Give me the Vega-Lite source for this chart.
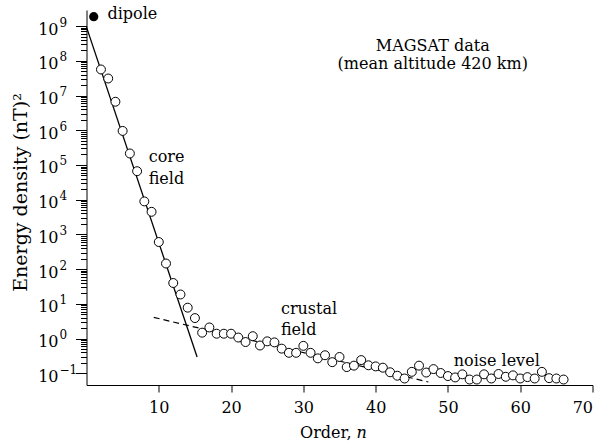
{
  "$schema": "https://vega.github.io/schema/vega-lite/v6.json",
  "width": 506,
  "height": 375,
  "autosize": {"type": "none"},
  "padding": {"left": 86.5, "top": 10, "right": 7.5, "bottom": 61},
  "background": "white",
  "config": {
    "font": "DejaVu Serif",
    "view": {"stroke": null},
    "axis": {
      "grid": false,
      "domainColor": "black",
      "domainWidth": 1,
      "tickColor": "black",
      "tickWidth": 1,
      "tickOpacity": 1,
      "labelColor": "black",
      "titleColor": "black",
      "labelFont": "DejaVu Serif",
      "titleFont": "DejaVu Serif",
      "titleFontWeight": "normal",
      "labelFontSize": 16
    }
  },
  "datasets": {
    "pts": [
      {"n": 2, "E": 5.62e7}, {"n": 3, "E": 3.09e7}, {"n": 4, "E": 6.61e6}, {"n": 5, "E": 9.55e5},
      {"n": 6, "E": 2.14e5}, {"n": 7, "E": 6.61e4}, {"n": 8, "E": 8910}, {"n": 9, "E": 4470},
      {"n": 10, "E": 603}, {"n": 11, "E": 145}, {"n": 12, "E": 39.8}, {"n": 13, "E": 18.6},
      {"n": 14, "E": 7.76}, {"n": 15, "E": 3.89}, {"n": 16, "E": 1.48}, {"n": 17, "E": 2.09},
      {"n": 18, "E": 1.38}, {"n": 19, "E": 1.38}, {"n": 20, "E": 1.38}, {"n": 21, "E": 1.07},
      {"n": 22, "E": 0.794}, {"n": 23, "E": 1.17}, {"n": 24, "E": 0.631}, {"n": 25, "E": 0.832},
      {"n": 26, "E": 0.776}, {"n": 27, "E": 0.513}, {"n": 28, "E": 0.389}, {"n": 29, "E": 0.389},
      {"n": 30, "E": 0.617}, {"n": 31, "E": 0.389}, {"n": 32, "E": 0.269}, {"n": 33, "E": 0.331},
      {"n": 34, "E": 0.209}, {"n": 35, "E": 0.295}, {"n": 36, "E": 0.151}, {"n": 37, "E": 0.166},
      {"n": 38, "E": 0.240}, {"n": 39, "E": 0.170}, {"n": 40, "E": 0.158}, {"n": 41, "E": 0.145},
      {"n": 42, "E": 0.107}, {"n": 43, "E": 0.0851}, {"n": 44, "E": 0.0708}, {"n": 45, "E": 0.110},
      {"n": 46, "E": 0.166}, {"n": 47, "E": 0.105}, {"n": 48, "E": 0.132}, {"n": 49, "E": 0.102},
      {"n": 50, "E": 0.0832}, {"n": 51, "E": 0.0759}, {"n": 52, "E": 0.0933}, {"n": 53, "E": 0.0661},
      {"n": 54, "E": 0.0661}, {"n": 55, "E": 0.0933}, {"n": 56, "E": 0.0708}, {"n": 57, "E": 0.0955},
      {"n": 58, "E": 0.0794}, {"n": 59, "E": 0.0871}, {"n": 60, "E": 0.0708}, {"n": 61, "E": 0.0776},
      {"n": 62, "E": 0.0708}, {"n": 63, "E": 0.110}, {"n": 64, "E": 0.0724}, {"n": 65, "E": 0.0708},
      {"n": 66, "E": 0.0661}
    ],
    "dip": [{"n": 1, "E": 1.86e9}],
    "core": [{"n": 0, "E": 9.33e8}, {"n": 15.3, "E": 0.295}],
    "crust": [{"n": 9.3, "E": 4.07}, {"n": 47.3, "E": 0.0562}],
    "leftText": [
      {"n": 2.9, "E": 1.65e9, "label": "dipole"},
      {"n": 8.6, "E": 1.18e5, "label": "core"},
      {"n": 8.6, "E": 2.8e4, "label": "field"},
      {"n": 26.9, "E": 5.25, "label": "crustal"},
      {"n": 26.9, "E": 1.3, "label": "field"},
      {"n": 50.8, "E": 0.159, "label": "noise level"}
    ],
    "centerText": [
      {"n": 47.9, "E": 1.94e8, "label": "MAGSAT data"},
      {"n": 47.9, "E": 5.65e7, "label": "(mean altitude 420 km)"}
    ]
  },
  "encoding": {
    "x": {
      "field": "n",
      "type": "quantitative",
      "scale": {"domain": [0, 70], "nice": false, "zero": false},
      "axis": {
        "values": [10, 20, 30, 40, 50, 60, 70],
        "tickSize": 7,
        "labelPadding": 7,
        "title": "Order, 𝑛",
        "titleFontSize": 16,
        "titleX": 246.5,
        "titleY": 52,
        "titleBaseline": "alphabetic",
        "titleAlign": "center"
      }
    }
  },
  "resolve": {"scale": {"y": "independent"}, "axis": {"y": "independent"}},
  "layer": [
    {
      "data": {"name": "crust"},
      "mark": {"type": "line", "color": "black", "strokeWidth": 1.2, "strokeDash": [6, 4]},
      "encoding": {
        "y": {"field": "E", "type": "quantitative", "scale": {"type": "log", "domain": [0.046, 2.9e9], "nice": false}, "axis": null}
      }
    },
    {
      "data": {"name": "core"},
      "mark": {"type": "line", "color": "black", "strokeWidth": 1.3},
      "encoding": {
        "y": {
          "field": "E",
          "type": "quantitative",
          "scale": {"type": "log", "domain": [0.046, 2.9e9], "nice": false},
          "axis": {
            "orient": "left",
            "title": null,
            "domain": false,
            "ticks": true,
            "tickSize": 11,
            "tickCount": 50,
            "labelOverlap": false,
            "labelAlign": "left",
            "labelPadding": 16.5,
            "labelFontSize": 12,
            "labelOffset": -4,
            "values": [0.1, 1, 10, 100, 1000, 10000, 100000, 1000000, 10000000, 100000000, 1000000000],
            "labelExpr": "['−1','0','1','2','3','4','5','6','7','8','9'][round(log(datum.value)/LN10)+1]"
          }
        }
      }
    },
    {
      "data": {"name": "dip"},
      "mark": {"type": "circle", "color": "black", "size": 85, "opacity": 1},
      "encoding": {
        "y": {"field": "E", "type": "quantitative", "scale": {"type": "log", "domain": [0.046, 2.9e9], "nice": false}, "axis": null}
      }
    },
    {
      "data": {"name": "pts"},
      "mark": {"type": "circle", "fill": "white", "stroke": "black", "strokeWidth": 1, "size": 80, "opacity": 1},
      "encoding": {
        "y": {
          "field": "E",
          "type": "quantitative",
          "scale": {"type": "log", "domain": [0.046, 2.9e9], "nice": false},
          "axis": {
            "orient": "left",
            "values": [0.1,0.2,0.3,0.4,0.5,0.6,0.7,0.8,0.9,1,2,3,4,5,6,7,8,9,10,20,30,40,50,60,70,80,90,100,200,300,400,500,600,700,800,900,1000,2000,3000,4000,5000,6000,7000,8000,9000,10000,20000,30000,40000,50000,60000,70000,80000,90000,100000,200000,300000,400000,500000,600000,700000,800000,900000,1000000,2000000,3000000,4000000,5000000,6000000,7000000,8000000,9000000,10000000,20000000,30000000,40000000,50000000,60000000,70000000,80000000,90000000,100000000,200000000,300000000,400000000,500000000,600000000,700000000,800000000,900000000,1000000000],
            "tickCount": 200,
            "ticks": true,
            "tickSize": 6,
            "labelOverlap": false,
            "labelPadding": 22.5,
            "labelOffset": 3,
            "labelExpr": "abs(log(datum.value)/LN10 - round(log(datum.value)/LN10)) < 0.001 ? '10' : ''",
            "title": "Energy density (nT)²",
            "titleFontSize": 19,
            "titleX": -66.5,
            "titleY": 182,
            "titleBaseline": "middle",
            "titleAlign": "center",
            "titleAngle": -90
          }
        }
      }
    },
    {
      "data": {"name": "leftText"},
      "mark": {"type": "text", "align": "left", "baseline": "alphabetic", "fontSize": 16, "font": "DejaVu Serif", "color": "black"},
      "encoding": {
        "y": {"field": "E", "type": "quantitative", "scale": {"type": "log", "domain": [0.046, 2.9e9], "nice": false}, "axis": null},
        "text": {"field": "label"}
      }
    },
    {
      "data": {"name": "centerText"},
      "mark": {"type": "text", "align": "center", "baseline": "alphabetic", "fontSize": 16, "font": "DejaVu Serif", "color": "black"},
      "encoding": {
        "y": {"field": "E", "type": "quantitative", "scale": {"type": "log", "domain": [0.046, 2.9e9], "nice": false}, "axis": null},
        "text": {"field": "label"}
      }
    }
  ]
}
